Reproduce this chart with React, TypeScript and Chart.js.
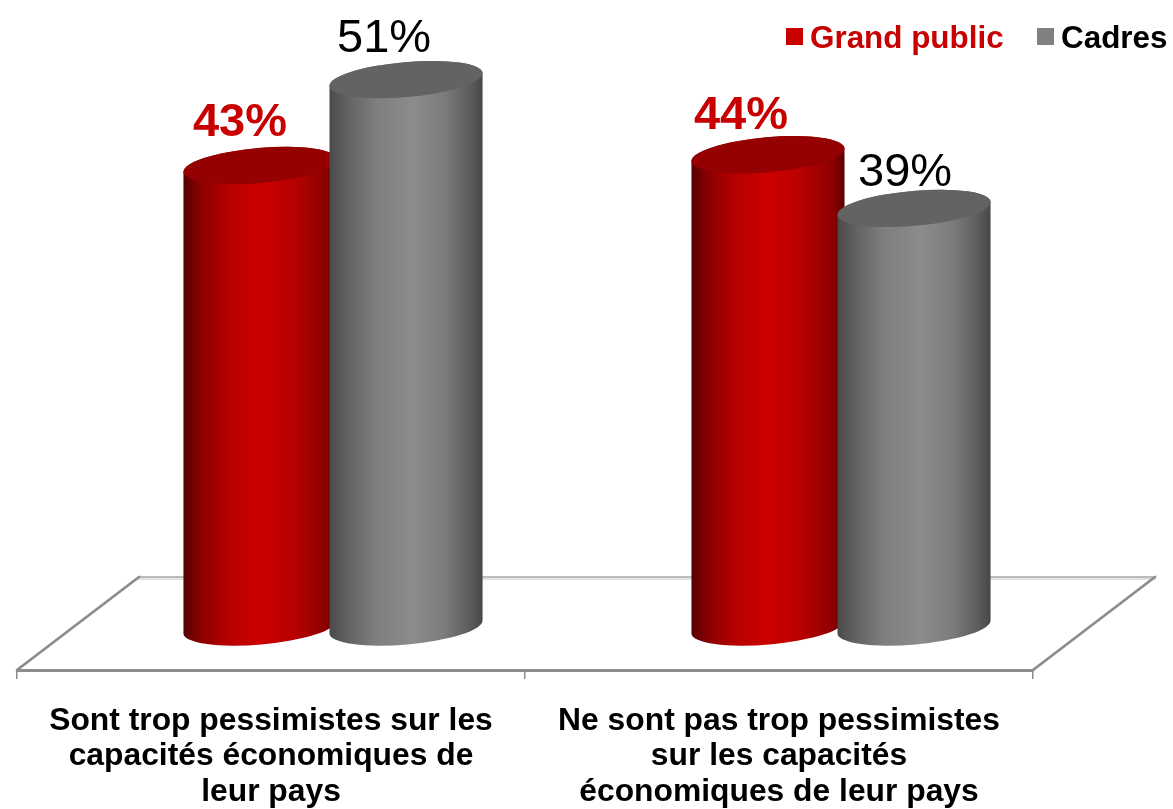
import React, { useEffect, useRef } from "react";
import { Chart, registerables } from "chart.js";

Chart.register(...registerables);

const categories: string[][] = [
  ["Sont trop pessimistes sur les", "capacités économiques de", "leur pays"],
  ["Ne sont pas trop pessimistes", "sur les capacités", "économiques de leur pays"],
];
const grandPublic = [43, 44];
const cadres = [51, 39];
const seriesNames = ["Grand public", "Cadres"];

const FONT = "'Liberation Sans', Arial, sans-serif";
const RED = "#c80000";
const GREY = "#808080";

// Fake 3D geometry
const FLOOR_DX = 122;
const FLOOR_DY = 93;
const BAR_DX = 62;
const BAR_DY = 43;
const TILT = (-5 * Math.PI) / 180;
const RY = 17.5;

const palettes = [
  {
    cap: "#950000",
    stops: [
      [0, "#560000"],
      [0.12, "#8e0000"],
      [0.3, "#b80000"],
      [0.5, "#cc0000"],
      [0.72, "#b80000"],
      [0.92, "#8e0000"],
      [1, "#5e0000"],
    ],
  },
  {
    cap: "#636363",
    stops: [
      [0, "#4a4a4a"],
      [0.12, "#626262"],
      [0.3, "#7e7e7e"],
      [0.55, "#8c8c8c"],
      [0.75, "#7c7c7c"],
      [0.92, "#5c5c5c"],
      [1, "#474747"],
    ],
  },
];

// Hand-placed label offsets from each cylinder's top centre: [dataset][category]
const labelOffsets = [
  [[-20, -29], [-27, -26]],
  [[-22, -28], [-9, -22]],
];
const labelStyles = [
  { font: `bold 47px ${FONT}`, color: RED },
  { font: `47px ${FONT}`, color: "#000000" },
];
const legendStyles = [
  { box: 786, text: 810, color: RED },
  { box: 1037, text: 1061, color: "#000000" },
];

const cylinderPlugin = {
  id: "cylinders",
  beforeDatasetsDraw(chart: any) {
    const { ctx, chartArea: a } = chart;
    // floor
    ctx.save();
    ctx.lineCap = "round";
    ctx.strokeStyle = "#e2e2e2";
    ctx.lineWidth = 2;
    ctx.beginPath();
    ctx.moveTo(a.left + FLOOR_DX, a.bottom - FLOOR_DY + 2);
    ctx.lineTo(a.right + FLOOR_DX, a.bottom - FLOOR_DY + 2);
    ctx.stroke();
    ctx.strokeStyle = "#a6a6a6";
    ctx.lineWidth = 1.5;
    ctx.beginPath();
    ctx.moveTo(a.left + FLOOR_DX, a.bottom - FLOOR_DY);
    ctx.lineTo(a.right + FLOOR_DX, a.bottom - FLOOR_DY);
    ctx.stroke();
    ctx.strokeStyle = "#8c8c8c";
    ctx.lineWidth = 2.8;
    for (const x of [a.left, a.right]) {
      ctx.beginPath();
      ctx.moveTo(x, a.bottom);
      ctx.lineTo(x + FLOOR_DX, a.bottom - FLOOR_DY);
      ctx.stroke();
    }
    ctx.restore();

    // cylinders, first series underneath
    chart.data.datasets.forEach((_: any, d: number) => {
      const pal = palettes[d];
      chart.getDatasetMeta(d).data.forEach((el: any) => {
        const cx = el.x + BAR_DX;
        const top = el.y - BAR_DY;
        const base = el.base - BAR_DY;
        const half = el.width / 2;
        const rx = half / Math.cos(TILT);
        const g = ctx.createLinearGradient(cx - half, 0, cx + half, 0);
        pal.stops.forEach(([o, c]: any) => g.addColorStop(o, c));
        ctx.save();
        ctx.fillStyle = g;
        ctx.beginPath();
        ctx.ellipse(cx, base, rx, RY, TILT, 0, Math.PI);
        ctx.ellipse(cx, top, rx, RY, TILT, Math.PI, Math.PI * 2);
        ctx.closePath();
        ctx.fill();
        ctx.fillStyle = pal.cap;
        ctx.beginPath();
        ctx.ellipse(cx, top, rx, RY, TILT, 0, Math.PI * 2);
        ctx.fill();
        ctx.restore();
      });
    });
  },
  beforeDatasetDraw() {
    return false;
  },
  afterDatasetsDraw(chart: any) {
    const { ctx } = chart;
    ctx.save();
    ctx.textAlign = "center";
    ctx.textBaseline = "alphabetic";
    chart.data.datasets.forEach((ds: any, d: number) => {
      chart.getDatasetMeta(d).data.forEach((el: any, i: number) => {
        const [ox, oy] = labelOffsets[d][i];
        ctx.font = labelStyles[d].font;
        ctx.fillStyle = labelStyles[d].color;
        ctx.fillText(`${ds.data[i]}%`, el.x + BAR_DX + ox, el.y - BAR_DY + oy);
      });
    });
    // legend
    ctx.textAlign = "left";
    ctx.font = `bold 31.4px ${FONT}`;
    chart.data.datasets.forEach((ds: any, d: number) => {
      const s = legendStyles[d];
      ctx.fillStyle = ds.backgroundColor;
      ctx.fillRect(s.box, 28, 17, 17);
      ctx.fillStyle = s.color;
      ctx.fillText(ds.label, s.text, 48);
    });
    ctx.restore();
  },
};

export default function App() {
  const ref = useRef<HTMLCanvasElement>(null);
  useEffect(() => {
    const chart = new Chart(ref.current as HTMLCanvasElement, {
      type: "bar",
      data: {
        labels: categories as any,
        datasets: [
          { label: seriesNames[0], data: grandPublic, backgroundColor: RED },
          { label: seriesNames[1], data: cadres, backgroundColor: GREY },
        ],
      },
      plugins: [cylinderPlugin as any],
      options: {
        animation: false,
        responsive: false,
        layout: { padding: { left: 17, top: 26, right: 0, bottom: 0 } },
        datasets: { bar: { categoryPercentage: 0.575, barPercentage: 1.048 } },
        plugins: { legend: { display: false }, tooltip: { enabled: false } },
        scales: {
          x: {
            grid: { drawOnChartArea: false, color: "#8c8c8c", tickLength: 9, lineWidth: 1.5 },
            border: { color: "#8c8c8c", width: 3 },
            ticks: {
              color: "#000000",
              autoSkip: false,
              maxRotation: 0,
              padding: 24,
              font: { family: FONT, size: 31.8, weight: "bold", lineHeight: 1.12 },
            },
            afterFit(scale: any) {
              scale.height = 139;
            },
          },
          y: {
            position: "right",
            min: 0,
            max: 60,
            grid: { display: false },
            border: { display: false },
            ticks: { display: false },
            afterFit(scale: any) {
              scale.width = 140;
            },
          },
        },
      } as any,
    });
    return () => chart.destroy();
  }, []);
  return (
    <div style={{ position: "absolute", left: 0, top: 0, width: 1173, height: 809, background: "#fff" }}>
      <canvas ref={ref} width={1173} height={809} style={{ display: "block" }} />
    </div>
  );
}
